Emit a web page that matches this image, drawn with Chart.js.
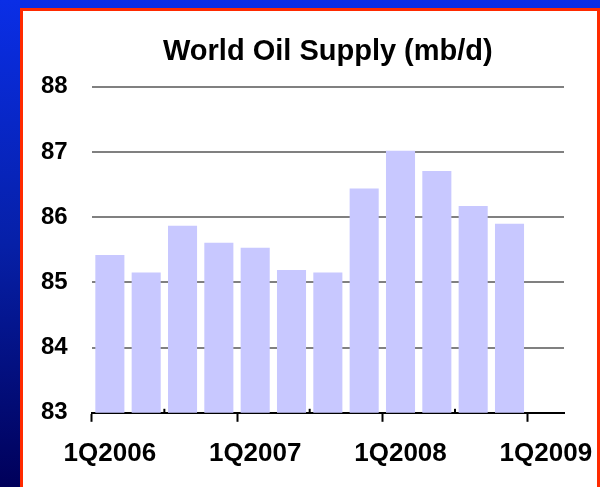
<!DOCTYPE html>
<html>
<head>
<meta charset="utf-8">
<script src="https://cdn.jsdelivr.net/npm/chart.js@4"></script>
<style>
  html, body { margin: 0; padding: 0; }
  body {
    width: 600px; height: 487px; overflow: hidden; position: relative;
    background: linear-gradient(to bottom, #0a2ee6 0%, #0620a8 50%, #00005a 100%);
  }
  #panel {
    position: absolute; left: 20px; top: 8px; width: 574px; height: 500px;
    background: #fff; border: 3px solid #ff2a00;
  }
  #oilChart { position: absolute; left: 0; top: 0; }
</style>
</head>
<body>
<div id="panel"></div>
<canvas id="oilChart" width="600" height="487"></canvas>
<script>
// quarters, 1Q2006 .. 1Q2009 (last slot is empty)
const quarters = ["1Q2006", "2Q2006", "3Q2006", "4Q2006",
                  "1Q2007", "2Q2007", "3Q2007", "4Q2007",
                  "1Q2008", "2Q2008", "3Q2008", "4Q2008",
                  "1Q2009"];
const supply = [85.42, 85.15, 85.87, 85.61, 85.53, 85.19, 85.15,
                86.44, 87.02, 86.71, 86.17, 85.90, null];
const shownLabels = ["1Q2006", "1Q2007", "1Q2008", "1Q2009"];
const yMin = 83, yMax = 88;

// small inward ticks half way between the year marks
const minorTicks = {
    id: "minorTicks",
    afterDraw(chart) {
        const x = chart.scales.x;
        const ctx = chart.ctx;
        ctx.save();
        ctx.strokeStyle = "#000";
        ctx.lineWidth = 2;
        for (let i = 2; i < quarters.length; i += 4) {
            const px = (x.getPixelForValue(i - 1) + x.getPixelForValue(i)) / 2;
            ctx.beginPath();
            ctx.moveTo(px, x.top - 4);
            ctx.lineTo(px, x.top);
            ctx.stroke();
        }
        ctx.restore();
    }
};

new Chart(document.getElementById("oilChart"), {
    type: "bar",
    data: {
        labels: quarters,
        datasets: [{
            data: supply,
            backgroundColor: "#c8c8ff",
            categoryPercentage: 1,
            barPercentage: 0.8
        }]
    },
    options: {
        responsive: false,
        animation: false,
        devicePixelRatio: 1,
        layout: { padding: { top: 35, left: 17, right: 36, bottom: 2 } },
        plugins: {
            legend: { display: false },
            tooltip: { enabled: false },
            title: {
                display: true,
                fullSize: false,
                text: "World Oil Supply (mb/d)",
                color: "#000",
                font: { family: "Liberation Sans", size: 29, weight: "bold" },
                padding: { top: 0, bottom: 17 }
            }
        },
        scales: {
            x: {
                afterFit: scale => { scale.paddingRight = 0; scale.paddingLeft = 0; },
                grid: {
                    offset: true,
                    drawOnChartArea: false,
                    tickLength: 9,
                    tickWidth: 2,
                    tickColor: ctx => (ctx.index % 4 === 0 && ctx.index < 13) ? "#000" : "rgba(0,0,0,0)"
                },
                border: { display: true, color: "#000", width: 2 },
                ticks: {
                    autoSkip: false,
                    maxRotation: 0,
                    padding: 16,
                    color: "#000",
                    font: { family: "Liberation Sans", size: 26, weight: "bold" },
                    callback: function (v) {
                        const l = this.getLabelForValue(v);
                        return shownLabels.includes(l) ? l : "";
                    }
                }
            },
            y: {
                min: yMin,
                max: yMax,
                ticks: {
                    stepSize: 1,
                    padding: 24,
                    color: "#000",
                    font: { family: "Liberation Sans", size: 24, weight: "bold" }
                },
                grid: {
                    drawTicks: false,
                    lineWidth: 2,
                    color: ctx => ctx.tick && ctx.tick.value === yMin ? "rgba(0,0,0,0)" : "#808080"
                },
                border: { display: false }
            }
        }
    },
    plugins: [minorTicks]
});
</script>
</body>
</html>
